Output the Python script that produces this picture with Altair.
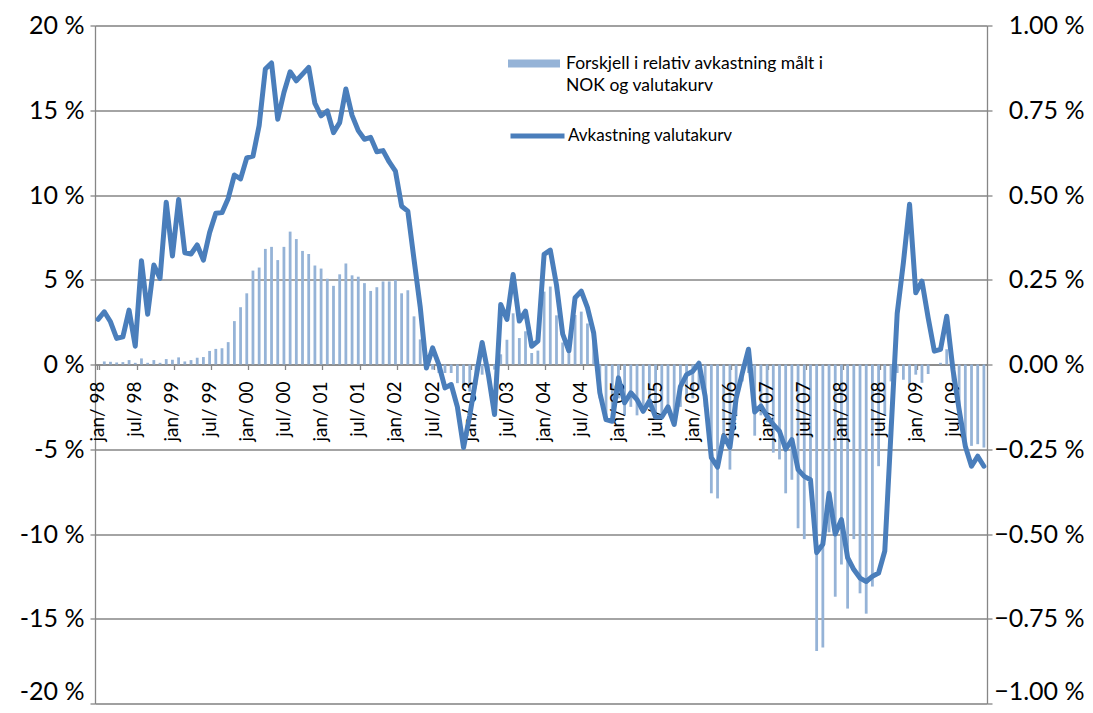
import altair as alt
import pandas as pd

mon_names = ["jan", "feb", "mar", "apr", "mai", "jun", "jul", "aug", "sep", "okt", "nov", "des"]
years = list(range(1998, 2010))
months = [f"{m}/ {y % 100:02d}" for y in years for m in mon_names]
tick_labels = [f"{m}/ {y % 100:02d}" for y in years for m in ["jan", "jul"]]

# Avkastning valutakurv (left axis, %)
avkastning = [
    2.66, 3.11, 2.52, 1.54, 1.63, 3.21, 1.08, 6.12, 2.97, 5.87, 5.08, 9.57,
    6.40, 9.74, 6.59, 6.52, 7.05, 6.16, 7.78, 8.92, 8.96, 9.80, 11.18, 10.95,
    12.19, 12.29, 14.10, 17.43, 17.79, 14.47, 16.05, 17.27, 16.74, 17.13, 17.53, 15.40,
    14.67, 14.96, 13.68, 14.27, 16.25, 14.70, 13.80, 13.29, 13.40, 12.55, 12.62, 11.95,
    11.41, 9.34, 9.05, 6.20, 3.40, -0.20, 0.98, 0.00, -1.38, -1.18, -2.50, -4.90,
    -3.00, -0.80, 1.30, -0.60, -2.95, 3.54, 2.66, 5.31, 2.56, 3.15, 1.08, 1.38,
    6.50, 6.75, 4.70, 1.80, 0.80, 3.94, 4.33, 3.35, 1.87, -1.67, -3.25, -3.35,
    -0.79, -2.26, -1.67, -2.07, -2.76, -2.15, -3.10, -3.10, -2.50, -3.54, -1.30, -0.60,
    -0.40, 0.08, -1.87, -5.50, -6.05, -4.20, -4.90, -2.00, -0.50, 0.90, -2.80, -2.45,
    -3.05, -3.54, -3.94, -5.00, -4.43, -6.20, -6.60, -6.80, -11.10, -10.60, -7.60, -10.00,
    -9.15, -11.40, -12.10, -12.60, -12.80, -12.50, -12.30, -11.00, -4.00, 3.00, 6.00, 9.45,
    4.23, 4.92, 2.76, 0.79, 0.89, 2.85, -0.30, -2.66, -4.82, -6.00, -5.41, -6.00,
]

# Forskjell i relativ avkastning (right axis, %)
forskjell = [
    0.000, 0.009, 0.008, 0.006, 0.007, 0.013, 0.005, 0.018, 0.005, 0.013, 0.005, 0.016,
    0.014, 0.021, 0.009, 0.013, 0.020, 0.022, 0.040, 0.046, 0.048, 0.066, 0.128, 0.169,
    0.210, 0.277, 0.286, 0.341, 0.347, 0.308, 0.347, 0.392, 0.370, 0.335, 0.326, 0.292,
    0.283, 0.253, 0.232, 0.266, 0.298, 0.263, 0.259, 0.240, 0.217, 0.228, 0.245, 0.245,
    0.249, 0.210, 0.219, 0.142, 0.074, 0.015, -0.015, -0.025, -0.025, -0.025, -0.055, -0.065,
    -0.080, -0.060, -0.030, -0.030, -0.015, 0.030, 0.073, 0.151, 0.078, 0.098, 0.034, 0.041,
    0.215, 0.230, 0.145, 0.065, 0.033, 0.146, 0.156, 0.121, 0.080, -0.100, -0.150, -0.165,
    -0.100, -0.150, -0.125, -0.150, -0.140, -0.125, -0.160, -0.150, -0.140, -0.175, -0.125, -0.100,
    -0.100, -0.075, -0.125, -0.380, -0.395, -0.225, -0.310, -0.150, -0.050, -0.025, -0.210, -0.150,
    -0.170, -0.260, -0.280, -0.380, -0.340, -0.483, -0.515, -0.350, -0.845, -0.835, -0.495, -0.685,
    -0.590, -0.720, -0.515, -0.675, -0.735, -0.655, -0.300, -0.150, -0.050, -0.025, -0.045, -0.059,
    -0.030, -0.054, -0.028, 0.000, 0.005, 0.045, -0.050, -0.175, -0.225, -0.240, -0.235, -0.245,
]

left_ticks = [-20, -15, -10, -5, 0, 5, 10, 15, 20]
right_ticks = [-1.0, -0.75, -0.5, -0.25, 0.0, 0.25, 0.5, 0.75, 1.0]

bar_name = "Forskjell i relativ avkastning målt i\nNOK og valutakurv"
line_name = "Avkastning valutakurv"

df = pd.DataFrame({
    "mnd": months,
    "avk": avkastning,
    "diff": forskjell,
    "s_bar": bar_name,
    "s_line": line_name,
})
labels_df = pd.DataFrame({"mnd": tick_labels})

FONT = "Lato"
GRID = "#868686"

x_scale = alt.Scale(paddingInner=0.55, paddingOuter=0.275)
x_axis = alt.Axis(
    values=tick_labels, labels=False,
    tickSize=5, tickColor=GRID, tickWidth=1.3, tickBand="extent",
    domainColor=GRID, domainWidth=1.3, offset=-339, grid=False,
)


def bottom_base(v):
    return {"condition": {"test": f"datum.value == {v}", "value": "alphabetic"}, "value": "middle"}


def bottom_off(v):
    return {"condition": {"test": f"datum.value == {v}", "value": -4}, "value": 0}


bars = alt.Chart(df).mark_bar().encode(
    x=alt.X("mnd:N", sort=months, scale=x_scale, title=None, axis=x_axis),
    y=alt.Y(
        "diff:Q", scale=alt.Scale(domain=[-1, 1], nice=False, zero=False), title=None,
        axis=alt.Axis(
            orient="right", values=right_ticks, labelExpr="format(datum.value, '.2f') + ' %'",
            labelFont=FONT, labelFontSize=25, labelColor="black", labelAlign="right",
            labelBaseline=bottom_base(-1), labelOffset=bottom_off(-1),
            labelPadding=92, tickSize=5, tickColor=GRID, tickWidth=1.3,
            domainColor=GRID, domainWidth=1.3, grid=False,
        ),
    ),
    fill=alt.Fill(
        "s_bar:N", scale=alt.Scale(domain=[bar_name], range=["#95B3D7"]),
        legend=alt.Legend(
            orient="none", legendX=413, legendY=12, title=None, padding=0,
            labelExpr="split(datum.label, '\\n')", labelFont=FONT, labelFontSize=17.5,
            labelColor="black", labelLimit=500, labelOffset=6,
            symbolType="M-1,-0.154H1V0.154H-1Z", symbolSize=2704, symbolStrokeWidth=0,
        ),
    ),
)

# month labels, drawn above the bars but below the line (as in the original)
month_text = alt.Chart(labels_df).mark_text(
    angle=270, align="right", baseline="middle", font=FONT, fontSize=19,
    color="black", dx=-17,
).encode(
    x=alt.X("mnd:N", sort=months, scale=x_scale, title=None, axis=x_axis),
    y=alt.Y(datum=0, scale=alt.Scale(domain=[-20, 20], nice=False, zero=False), axis=None),
    text="mnd:N",
)

line = alt.Chart(df).mark_line(strokeWidth=5, strokeJoin="round", strokeCap="round").encode(
    x=alt.X("mnd:N", sort=months, scale=x_scale, title=None, axis=x_axis),
    y=alt.Y(
        "avk:Q", scale=alt.Scale(domain=[-20, 20], nice=False, zero=False), title=None,
        axis=alt.Axis(
            orient="left", values=left_ticks, labelExpr="datum.value + ' %'",
            labelFont=FONT, labelFontSize=25, labelColor="black", labelPadding=6,
            labelBaseline=bottom_base(-20), labelOffset=bottom_off(-20),
            tickSize=5, tickColor=GRID, tickWidth=1.3,
            domainColor=GRID, domainWidth=1.3, grid=True, gridColor=GRID, gridWidth=1.3,
        ),
    ),
    stroke=alt.Stroke(
        "s_line:N", scale=alt.Scale(domain=[line_name], range=["#4A7EBB"]),
        legend=alt.Legend(
            orient="none", legendX=413, legendY=81, title=None, padding=0,
            labelFont=FONT, labelFontSize=17, labelColor="black", labelLimit=500, labelOffset=1,
            symbolType="stroke", symbolSize=2916, symbolStrokeWidth=5,
        ),
    ),
)

chart = alt.layer(bars, month_text, line).resolve_scale(
    y="independent", fill="independent", stroke="independent"
).properties(
    width=892, height=678,
    autosize=alt.AutoSizeParams(type="none"),
    padding={"left": 87, "top": 17.5, "right": 98, "bottom": 1},
    background="white",
).configure_view(stroke=None).configure(
    style={"guide-label": {"lineHeight": 22}}
)

chart.save("out.html", embed_options={"renderer": "svg", "actions": False})
